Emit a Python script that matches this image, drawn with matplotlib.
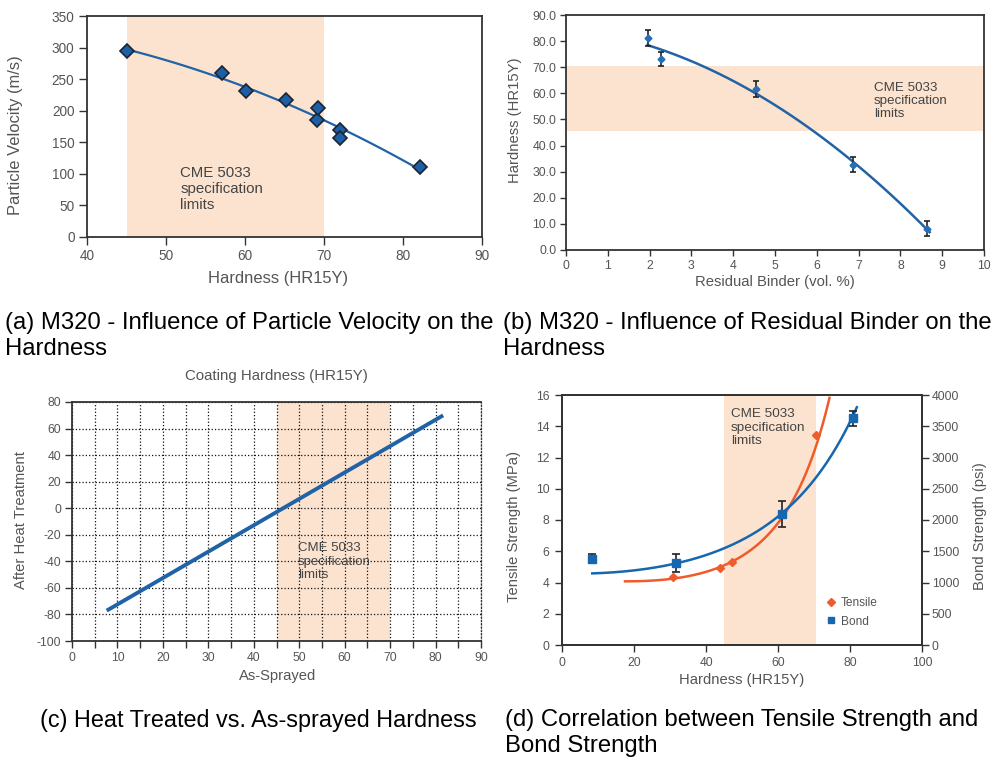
import numpy as np
import matplotlib
matplotlib.use('Agg')
import matplotlib.pyplot as plt
from matplotlib.ticker import FormatStrFormatter

plt.rcParams['font.family'] = ['Liberation Sans', 'DejaVu Sans']
plt.rcParams['axes.unicode_minus'] = False

# (a) particle velocity vs hardness
a_hardness = [45.1, 57.1, 60.1, 65.2, 69.1, 69.2, 72.0, 72.0, 82.1]
a_velocity = [294.5, 259, 231, 217, 185, 205, 170, 156, 111.5]

# (b) hardness vs residual binder
b_binder = [1.95, 2.27, 4.54, 6.86, 8.64]
b_hardness = [81.1, 73.3, 61.6, 32.7, 8.2]
b_err = [3.1, 2.7, 3.0, 2.9, 2.8]

# (c) heat treated vs as-sprayed (line end points)
c_sprayed = [8.0, 81.3]
c_treated = [-76.4, 69.2]

# (d) tensile / bond strength vs hardness
d_tensile_x = [30.7, 44.0, 47.3, 70.6]
d_tensile_mpa = [4.33, 4.93, 5.33, 13.45]
d_bond_x = [8.2, 31.8, 61.2, 80.9]
d_bond_psi = [1380, 1312, 2100, 3627]
d_bond_err = [75, 140, 210, 117]
# trendlines
d_tensile_fit_x = [17.5, 30.9, 43.9, 49.4, 55.0, 58.7, 63.3, 68.0, 71.2, 74.3]
d_tensile_fit_mpa = [4.05, 4.33, 4.9, 5.65, 6.4, 7.47, 9.07, 11.2, 13.3, 15.57]
d_bond_fit_x = [8.4, 31.9, 44.8, 49.4, 55.0, 61.2, 70.7, 77.2, 81.9]
d_bond_fit_psi = [1150, 1280, 1572, 1670, 1868, 2108, 2640, 3225, 3868]

spec_a = (45, 70)
spec_b = (45.5, 70.5)
spec_c = (45, 70)
spec_d = (45, 70.5)
spec_text = 'CME 5033\nspecification\nlimits'

BAND = '#fce3cf'
BLUE = '#2163a5'
ORANGE = '#ef5b2a'
GREY = '#555555'
DARK = '#333333'

fig = plt.figure(figsize=(9.91, 7.62), dpi=100)


def px_axes(l, t, r, b):
    return fig.add_axes([l / 991, 1 - b / 762, (r - l) / 991, (b - t) / 762])


def style(ax, size, length=4, pad=4):
    for s in ax.spines.values():
        s.set_color(DARK)
        s.set_linewidth(1.3)
    ax.tick_params(which='both', direction='out', length=length, width=1,
                   color=DARK, labelcolor=GREY, labelsize=size, pad=pad)


# ---- (a)
ax = px_axes(87, 16, 482, 237)
ax.axvspan(*spec_a, color=BAND, lw=0, zorder=0)
coef = np.polyfit(a_hardness, a_velocity, 2)
xs = np.linspace(45, 82, 100)
ax.plot(xs, np.polyval(coef, xs), color=BLUE, lw=1.6, zorder=2)
ax.plot(a_hardness, a_velocity, 'D', ms=6.8, mfc='#1d5fa6', mec='#1a2432',
        mew=1.2, zorder=3)
ax.set_xlim(40, 90)
ax.set_ylim(0, 350)
ax.set_xticks(range(40, 91, 10))
ax.set_yticks(range(0, 351, 50))
style(ax, 9.8, length=6, pad=3)
ax.text(51.8, 76, spec_text, fontsize=10.8, color='#444', va='center',
        linespacing=1.15)
ax.set_xlabel('Hardness (HR15Y)', fontsize=11.9, color=GREY, va='center')
ax.xaxis.set_label_coords(0.484, -0.19)
ax.set_ylabel('Particle Velocity (m/s)', fontsize=11.9, color=GREY, va='center')
ax.yaxis.set_label_coords(-0.18, 0.46)

# ---- (b)
ax = px_axes(566, 15, 984, 250)
ax.axhspan(*spec_b, color=BAND, lw=0, zorder=0)
coef = np.polyfit(b_binder, b_hardness, 2)
xs = np.linspace(1.95, 8.7, 100)
ax.plot(xs, np.polyval(coef, xs), color=BLUE, lw=1.8, zorder=2)
ax.errorbar(b_binder, b_hardness, yerr=b_err, fmt='D', ms=3.5, color='#2a6db5',
            ecolor='#222222', elinewidth=1.2, capsize=2.5, capthick=1.2, zorder=3)
ax.set_xlim(0, 10)
ax.set_ylim(0, 90)
ax.set_xticks(range(0, 11))
ax.set_yticks(range(0, 91, 10))
ax.yaxis.set_major_formatter(FormatStrFormatter('%.1f'))
style(ax, 8.8, length=4, pad=3)
ax.text(7.37, 57.1, spec_text, fontsize=9.6, color='#444', va='center',
        linespacing=1.15)
ax.set_xlabel('Residual Binder (vol. %)', fontsize=10.7, color=GREY, va='center')
ax.xaxis.set_label_coords(0.499, -0.136)
ax.set_ylabel('Hardness (HR15Y)', fontsize=10.7, color=GREY, va='center')
ax.yaxis.set_label_coords(-0.122, 0.553)

# ---- (c)
ax = px_axes(72, 402, 481, 641)
ax.axvspan(*spec_c, color=BAND, lw=0, zorder=0)
ax.plot(c_sprayed, c_treated, color='#1f63a6', lw=2.8, zorder=3)
ax.set_xlim(0, 90)
ax.set_ylim(-100, 80)
ax.set_xticks(range(0, 91, 10))
ax.set_xticks(range(0, 91, 5), minor=True)
ax.set_yticks(range(-100, 81, 20))
ax.grid(True, which='both', axis='x', ls=':', color='#111111', lw=0.9)
ax.grid(True, which='major', axis='y', ls=':', color='#111111', lw=0.9)
style(ax, 8.7, length=5, pad=3)
ax.spines['right'].set_linestyle(':')
ax.spines['right'].set_linewidth(0.9)
ax.text(49.7, -40.3, spec_text, fontsize=9.5, color='#444', va='center',
        linespacing=1.15, zorder=4)
ax.set_title('Coating Hardness (HR15Y)', fontsize=10.8, color=GREY, va='center',
             y=1.075)
ax.set_xlabel('As-Sprayed', fontsize=10.6, color=GREY, va='center')
ax.xaxis.set_label_coords(0.503, -0.146)
ax.set_ylabel('After Heat Treatment', fontsize=10.6, color=GREY, va='center')
ax.yaxis.set_label_coords(-0.125, 0.506)

# ---- (d)
ax = px_axes(562, 395, 922, 645)
ax2 = ax.twinx()
ax.axvspan(*spec_d, color=BAND, lw=0, zorder=0)
tx = np.linspace(d_tensile_fit_x[0], d_tensile_fit_x[-1], 150)
tc = np.polyfit(d_tensile_fit_x, np.log(d_tensile_fit_mpa), 3)
ax.plot(tx, np.exp(np.polyval(tc, tx)), color=ORANGE, lw=1.8, zorder=2)
h_t, = ax.plot(d_tensile_x, d_tensile_mpa, 'D', ms=4.2, color=ORANGE,
               ls='none', zorder=3, label='Tensile')
bx = np.linspace(d_bond_fit_x[0], d_bond_fit_x[-1], 150)
bc = np.polyfit(d_bond_fit_x, np.log(d_bond_fit_psi), 3)
ax2.plot(bx, np.exp(np.polyval(bc, bx)), color='#1667b0', lw=1.8, zorder=2)
ax2.errorbar(d_bond_x, d_bond_psi, yerr=d_bond_err, fmt='s', ms=5.5,
             color='#1667b0', ecolor='#222222', elinewidth=1.2, capsize=3,
             capthick=1.2, zorder=3)
h_b, = ax2.plot([], [], 's', ms=5, color='#1667b0', ls='none', label='Bond')
ax.set_xlim(0, 100)
ax.set_ylim(0, 16)
ax2.set_ylim(0, 4000)
ax.set_xticks(range(0, 101, 20))
ax.set_yticks(range(0, 17, 2))
ax2.set_yticks(range(0, 4001, 500))
style(ax, 8.7, length=5, pad=4)
style(ax2, 8.7, length=5, pad=2)
ax.text(46.9, 13.9, spec_text, fontsize=9.7, color='#444', va='center',
        linespacing=1.15)
ax2.legend(handles=[h_t, h_b], loc='upper left', bbox_to_anchor=(0.735, 0.192),
           frameon=False, fontsize=8.6, handlelength=0.8, handletextpad=0.4,
           borderaxespad=0, borderpad=0, labelspacing=0.55, labelcolor=GREY)
ax.set_xlabel('Hardness (HR15Y)', fontsize=10.6, color=GREY, va='center')
ax.xaxis.set_label_coords(0.5, -0.14)
ax.set_ylabel('Tensile Strength (MPa)', fontsize=10.6, color=GREY, va='center')
ax.yaxis.set_label_coords(-0.133, 0.473)
ax2.set_ylabel('Bond Strength (psi)', fontsize=10.6, color=GREY, va='center')
ax2.yaxis.set_label_coords(1.161, 0.477)

# ---- captions
cap = 17.2
fig.text(5 / 991, 1 - 312 / 762,
         '(a) M320 - Influence of Particle Velocity on the\nHardness',
         fontsize=cap, va='top', linespacing=1.22)
fig.text(503 / 991, 1 - 312 / 762,
         '(b) M320 - Influence of Residual Binder on the\nHardness',
         fontsize=cap, va='top', linespacing=1.22)
fig.text(40 / 991, 1 - 709 / 762,
         '(c) Heat Treated vs. As-sprayed Hardness',
         fontsize=16.8, va='top', linespacing=1.22)
fig.text(505 / 991, 1 - 709 / 762,
         '(d) Correlation between Tensile Strength and\nBond Strength',
         fontsize=cap, va='top', linespacing=1.22)

fig.savefig('out.png', dpi=100)
